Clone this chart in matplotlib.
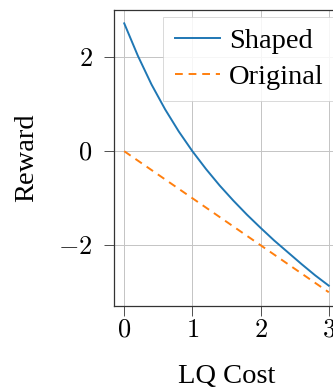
import numpy as np
import matplotlib
matplotlib.use("Agg")
import matplotlib.pyplot as plt

# LQ cost vs reward
cost = [0.0, 0.2, 0.4, 0.6, 0.8, 1.0, 1.2, 1.4, 1.6, 1.8,
        2.0, 2.2, 2.4, 2.6, 2.8, 3.0]
shaped = [2.72, 2.03, 1.42, 0.89, 0.42, 0.00, -0.38, -0.73, -1.05, -1.35,
          -1.63, -1.90, -2.15, -2.40, -2.64, -2.86]
original_cost = [0.0, 3.0]
original = [0.0, -3.0]

xticks = [0, 1, 2, 3]
yticks = [-2, 0, 2]

plt.rcParams['font.family'] = 'Liberation Serif'
plt.rcParams['mathtext.fontset'] = 'cm'

fig = plt.figure(figsize=(3.33, 3.9), dpi=100)
ax = fig.add_axes([114 / 333, 84.3 / 390, 225 / 333, 295.7 / 390])

ax.plot(cost, shaped, color='#1f77b4', lw=1.4, label='Shaped')
ax.plot(original_cost, original, color='#ff7f0e', lw=1.4,
        ls=(0, (4, 3)), label='Original')

ax.set_xlim(-0.15, 3.15)
ax.set_ylim(-3.286, 3.004)
ax.set_xticks(xticks)
ax.set_yticks(yticks)
ax.set_xticklabels([f'${t}$' for t in xticks])
ax.set_yticklabels([f'${t}$' for t in yticks])
ax.tick_params(axis='both', labelsize=19, length=7.5, width=0.6,
               color='#333333', direction='out')
ax.tick_params(axis='y', pad=8)
ax.tick_params(axis='x', pad=2.5)
ax.grid(True, color='#c4c4c4', lw=0.7)
for s in ax.spines.values():
    s.set_color('#333333')
    s.set_linewidth(0.9)

ax.set_xlabel('LQ Cost', fontsize=20.5, labelpad=16)
ax.set_ylabel('Reward', fontsize=20.5, labelpad=14)

leg = ax.legend(loc='upper right', bbox_to_anchor=(0.982, 0.977),
                fontsize=20.5, fancybox=False,
                framealpha=0.85, edgecolor='#cccccc', handlelength=1.6,
                handletextpad=0.3, borderpad=0.4, labelspacing=0.35,
                borderaxespad=0)
leg.get_frame().set_linewidth(0.6)

fig.savefig('out.png', dpi=100)
